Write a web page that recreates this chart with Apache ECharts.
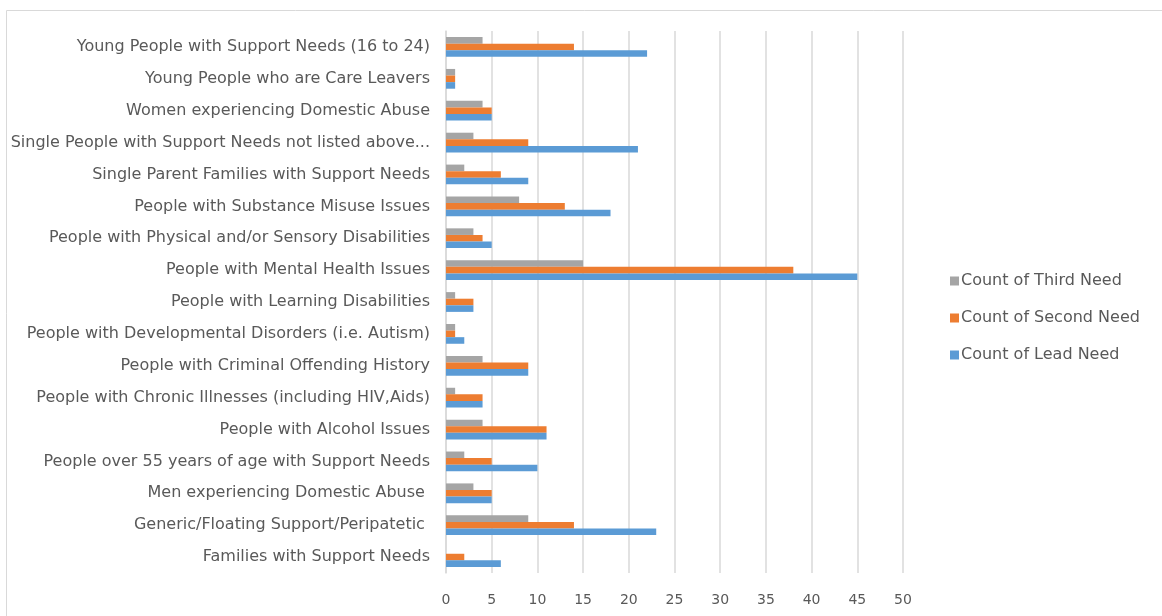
<!DOCTYPE html>
<html>
<head>
<meta charset="utf-8">
<script src="https://cdn.jsdelivr.net/npm/echarts@6/dist/echarts.min.js"></script>
<style>html,body{margin:0;padding:0;background:#fff}#c{width:1162px;height:616px}</style>
</head>
<body>
<div id="c"></div>
<script>
// Categories listed bottom to top (as in the reference)
var categories = [
  "Families with Support Needs",
  "Generic/Floating Support/Peripatetic ",
  "Men experiencing Domestic Abuse ",
  "People over 55 years of age with Support Needs",
  "People with Alcohol Issues",
  "People with Chronic Illnesses (including HIV,Aids)",
  "People with Criminal Offending History",
  "People with Developmental Disorders (i.e. Autism)",
  "People with Learning Disabilities",
  "People with Mental Health Issues",
  "People with Physical and/or Sensory Disabilities",
  "People with Substance Misuse Issues",
  "Single Parent Families with Support Needs",
  "Single People with Support Needs not listed above...",
  "Women experiencing Domestic Abuse",
  "Young People who are Care Leavers",
  "Young People with Support Needs (16 to 24)"
];
var leadNeed   = [6, 23, 5, 10, 11, 4, 9, 2, 3, 45, 5, 18, 9, 21, 5, 1, 22];
var secondNeed = [2, 14, 5, 5, 11, 4, 9, 1, 3, 38, 4, 13, 6, 9, 5, 1, 14];
var thirdNeed  = [0, 9, 3, 2, 4, 1, 4, 1, 1, 15, 3, 8, 2, 3, 4, 1, 4];
var seriesNames = ["Count of Third Need", "Count of Second Need", "Count of Lead Need"];
var xTicks = [0, 50, 5];

var chart = echarts.init(document.getElementById('c'));
var font = "'DejaVu Sans', 'Open Sans', sans-serif";
chart.setOption({
  animation: false,
  textStyle: {fontFamily: font},
  graphic: [
    {type: 'line', shape: {x1: 6.5, y1: 10.5, x2: 1162, y2: 10.5}, style: {stroke: '#d9d9d9', lineWidth: 1}},
    {type: 'line', shape: {x1: 6.5, y1: 10.5, x2: 6.5, y2: 616}, style: {stroke: '#d9d9d9', lineWidth: 1}}
  ],
  legend: {
    orient: 'vertical',
    left: 945,
    top: 268,
    itemGap: 21,
    itemWidth: 9,
    itemHeight: 9,
    icon: 'rect',
    data: seriesNames,
    textStyle: {fontFamily: font, fontSize: 16, color: '#595959', padding: [0, 0, 0, -3]}
  },
  grid: {left: 446, right: 259, top: 31, bottom: 43, containLabel: false},
  xAxis: {
    type: 'value',
    min: xTicks[0], max: xTicks[1], interval: xTicks[2],
    axisLine: {show: false},
    axisTick: {show: false},
    splitLine: {lineStyle: {color: '#d9d9d9', width: 1.5}},
    axisLabel: {color: '#595959', fontSize: 14, fontFamily: font, margin: 20}
  },
  yAxis: {
    type: 'category',
    data: categories,
    axisLine: {lineStyle: {color: '#d9d9d9', width: 1.5}},
    axisTick: {show: false},
    axisLabel: {color: '#595959', fontSize: 16, fontFamily: font, margin: 16}
  },
  series: [
    {name: seriesNames[0], type: 'bar', data: thirdNeed, itemStyle: {color: '#A5A5A5'}, barGap: '0%', barCategoryGap: '38%'},
    {name: seriesNames[1], type: 'bar', data: secondNeed, itemStyle: {color: '#ED7D31'}, barGap: '0%', barCategoryGap: '38%'},
    {name: seriesNames[2], type: 'bar', data: leadNeed, itemStyle: {color: '#5B9BD5'}, barGap: '0%', barCategoryGap: '38%'}
  ]
});
</script>
</body>
</html>
